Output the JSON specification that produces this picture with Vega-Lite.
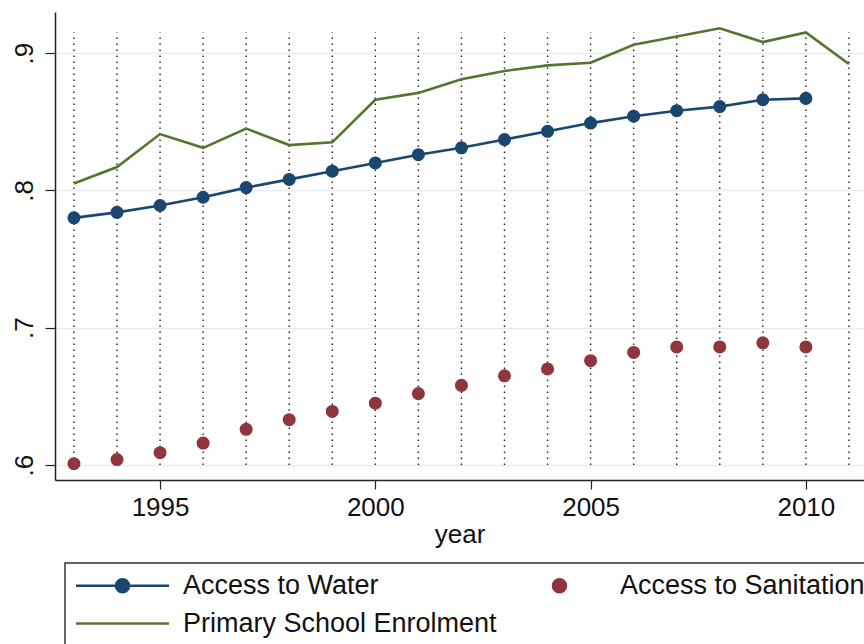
{
  "$schema": "https://vega.github.io/schema/vega-lite/v6.json",
  "autosize": {"type": "none"},
  "padding": {"left": 55, "top": 12, "right": 0, "bottom": 164},
  "width": 809,
  "height": 468,
  "background": "white",
  "config": {
    "view": {"stroke": null},
    "font": "Liberation Sans",
    "axis": {
      "labelFont": "Liberation Sans",
      "titleFont": "Liberation Sans",
      "labelFontSize": 26,
      "titleFontSize": 26,
      "labelColor": "#111",
      "titleColor": "#111",
      "titleFontWeight": "normal",
      "domainColor": "#222",
      "domainWidth": 1.5,
      "tickColor": "#222",
      "tickWidth": 1.2
    },
    "legend": {
      "labelFont": "Liberation Sans",
      "labelFontSize": 27,
      "labelColor": "#111",
      "labelLimit": 0
    }
  },
  "data": {
    "values": [
      {"year": 1993, "water": 0.780, "sanitation": 0.601, "enrolment": 0.805},
      {"year": 1994, "water": 0.784, "sanitation": 0.604, "enrolment": 0.817},
      {"year": 1995, "water": 0.789, "sanitation": 0.609, "enrolment": 0.841},
      {"year": 1996, "water": 0.795, "sanitation": 0.616, "enrolment": 0.831},
      {"year": 1997, "water": 0.802, "sanitation": 0.626, "enrolment": 0.845},
      {"year": 1998, "water": 0.808, "sanitation": 0.633, "enrolment": 0.833},
      {"year": 1999, "water": 0.814, "sanitation": 0.639, "enrolment": 0.835},
      {"year": 2000, "water": 0.820, "sanitation": 0.645, "enrolment": 0.866},
      {"year": 2001, "water": 0.826, "sanitation": 0.652, "enrolment": 0.871},
      {"year": 2002, "water": 0.831, "sanitation": 0.658, "enrolment": 0.881},
      {"year": 2003, "water": 0.837, "sanitation": 0.665, "enrolment": 0.887},
      {"year": 2004, "water": 0.843, "sanitation": 0.670, "enrolment": 0.891},
      {"year": 2005, "water": 0.849, "sanitation": 0.676, "enrolment": 0.893},
      {"year": 2006, "water": 0.854, "sanitation": 0.682, "enrolment": 0.906},
      {"year": 2007, "water": 0.858, "sanitation": 0.686, "enrolment": 0.912},
      {"year": 2008, "water": 0.861, "sanitation": 0.686, "enrolment": 0.918},
      {"year": 2009, "water": 0.866, "sanitation": 0.689, "enrolment": 0.908},
      {"year": 2010, "water": 0.867, "sanitation": 0.686, "enrolment": 0.915},
      {"year": 2011, "water": null, "sanitation": null, "enrolment": 0.892}
    ]
  },
  "encoding": {
    "x": {
      "field": "year", "type": "quantitative",
      "scale": {"domain": [1992.56, 2011.35], "nice": false, "zero": false},
      "axis": {
        "values": [1995, 2000, 2005, 2010],
        "format": "d",
        "title": "year",
        "grid": false,
        "tickSize": 9,
        "labelPadding": 5,
        "titlePadding": 1
      }
    },
    "color": {
      "field": "series", "type": "nominal",
      "scale": {
        "domain": ["Access to Water", "Access to Sanitation", "Primary School Enrolment"],
        "range": ["#1a476f", "#90353b", "#55752f"]
      },
      "legend": {
        "title": null,
        "orient": "none",
        "legendX": 10,
        "legendY": 551,
        "columns": 2,
        "direction": "horizontal",
        "padding": 9,
        "strokeColor": "#333",
        "fillColor": "white",
        "symbolSize": 400,
        "symbolStrokeWidth": 2.5,
        "symbolOffset": 35,
        "labelOffset": 47,
        "columnPadding": 14,
        "rowPadding": 10,
        "encode": {
          "symbols": {
            "update": {
              "shape": {"signal": "datum.value === 'Access to Water' ? 'M-4.65,0L4.65,0M0.65,0A0.65,0.65,0,1,1,-0.65,0A0.65,0.65,0,1,1,0.65,0' : datum.value === 'Access to Sanitation' ? 'M0.65,0A0.65,0.65,0,1,1,-0.65,0A0.65,0.65,0,1,1,0.65,0' : 'M-4.65,0L4.65,0'"},
              "stroke": {"signal": "scale('color', datum.value)"},
              "fill": {"signal": "scale('color', datum.value)"},
              "strokeWidth": {"value": 2.5},
              "opacity": {"value": 1}
            }
          },
          "legend": {"update": {"strokeWidth": {"value": 1.5}}}
        }
      }
    }
  },
  "layer": [
    {
      "mark": {"type": "rule", "strokeWidth": 1.4, "strokeDash": [1.5, 4.5]},
      "encoding": {
        "color": {"value": "#222"},
        "y": {"datum": 0.6},
        "y2": {"datum": 0.915}
      }
    },
    {
      "transform": [
        {"fold": ["water", "enrolment"], "as": ["key", "value"]},
        {"filter": "isValid(datum.value)"},
        {"calculate": "datum.key === 'water' ? 'Access to Water' : 'Primary School Enrolment'", "as": "series"}
      ],
      "mark": {"type": "line", "strokeWidth": 2.6},
      "encoding": {
        "y": {"field": "value", "type": "quantitative"},
        "detail": {"field": "series"}
      }
    },
    {
      "transform": [
        {"fold": ["water", "sanitation"], "as": ["key", "value"]},
        {"filter": "isValid(datum.value)"},
        {"calculate": "datum.key === 'water' ? 'Access to Water' : 'Access to Sanitation'", "as": "series"}
      ],
      "mark": {"type": "point", "filled": true, "opacity": 1, "size": 170, "shape": "circle"},
      "encoding": {
        "y": {
          "field": "value", "type": "quantitative",
          "scale": {"domain": [0.5891, 0.9299], "nice": false, "zero": false},
          "axis": {
            "values": [0.6, 0.7, 0.8, 0.9],
            "labelExpr": "replace(format(datum.value, '.1f'), '0.', '.')",
            "labelAngle": -90,
            "labelAlign": "center",
            "labelBaseline": "bottom",
            "labelPadding": 8,
            "tickSize": 10,
            "title": null,
            "grid": true,
            "gridColor": "#e6ecef",
            "gridWidth": 1.6
          }
        }
      }
    }
  ]
}
